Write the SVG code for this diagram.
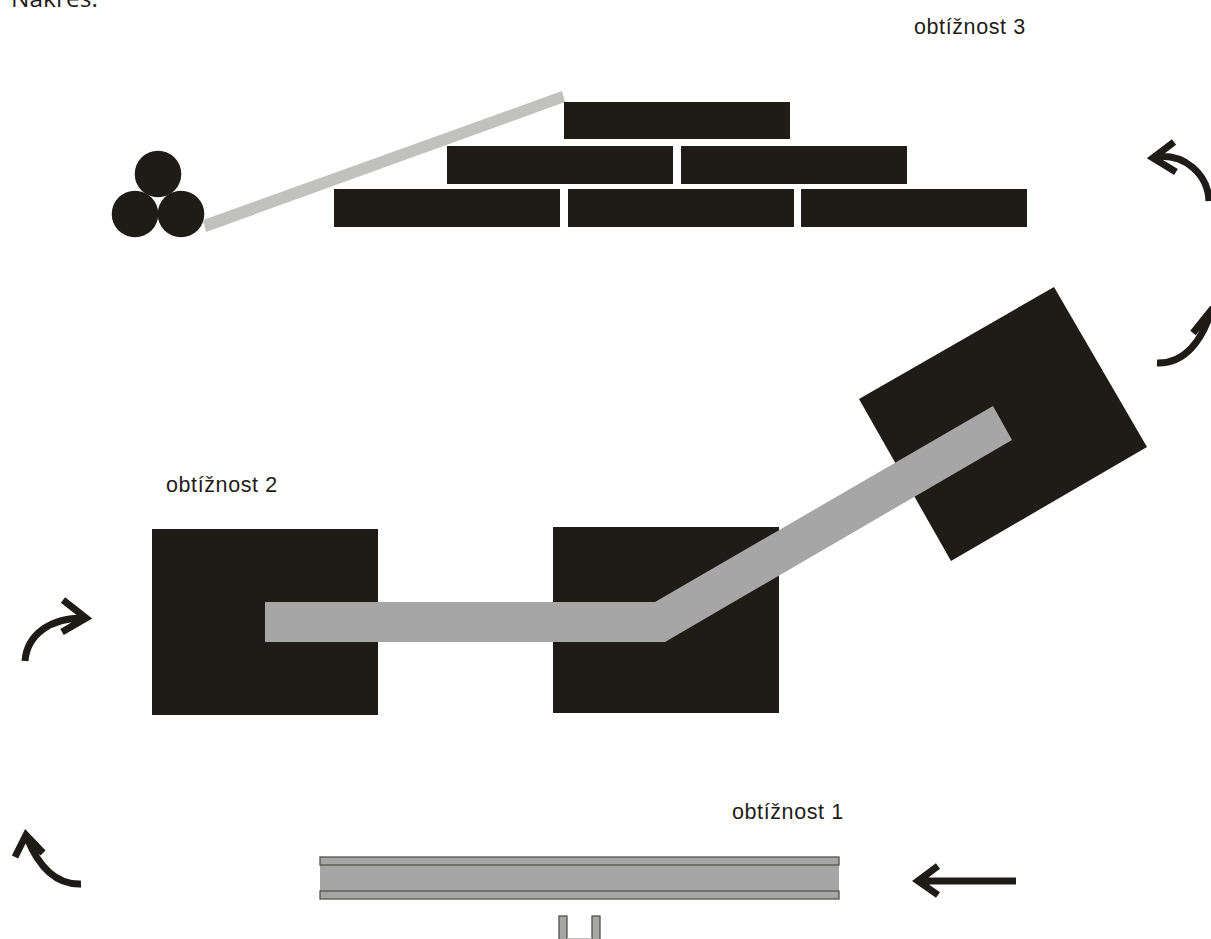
<svg xmlns="http://www.w3.org/2000/svg" width="1211" height="939" viewBox="0 0 1211 939">
<style>
.k{fill:#1f1c17}
.g{fill:#a6a6a6}
.f{fill:#a6a6a6;stroke:#55524e;stroke-width:1.3}
.t{font-family:"Liberation Sans",Arial,sans-serif;font-size:21.5px;letter-spacing:.6px;fill:#1f1c17}
.a{fill:none;stroke:#1f1c17;stroke-width:7;stroke-miterlimit:10}
</style>
<rect width="1211" height="939" fill="#fff"/>
<text x="11" y="7" style="font-family:'Open Sans',sans-serif;font-size:24.5px;fill:#1f1c17">Nakres:</text>
<g id="level3">
<text class="t" x="914" y="34">obtížnost 3</text>
<circle class="k" cx="158" cy="174" r="23.3"/>
<circle class="k" cx="135" cy="214" r="23.3"/>
<circle class="k" cx="181" cy="214" r="23.3"/>
<polygon points="203,220 562,91 565,102 206,232" fill="#c1c1c0"/>
<rect class="k" x="564" y="102" width="226" height="37"/>
<rect class="k" x="447" y="146" width="226" height="38"/>
<rect class="k" x="681" y="146" width="226" height="38"/>
<rect class="k" x="334" y="189" width="226" height="38"/>
<rect class="k" x="568" y="189" width="226" height="38"/>
<rect class="k" x="801" y="189" width="226" height="38"/>
</g>
<g id="level2">
<text class="t" x="166" y="492">obtížnost 2</text>
<rect class="k" x="152" y="529" width="226" height="186"/>
<rect class="k" x="553" y="527" width="226" height="186"/>
<polygon class="k" points="1054,287 1147,447 951,561 859,399"/>
<polygon class="g" points="265,602 655,602 993,406 1012,440 665,642 265,642"/>
</g>
<g id="level1">
<text class="t" x="732" y="819">obtížnost 1</text>
<rect class="g" x="320" y="865" width="519" height="26"/>
<rect class="f" x="320" y="857" width="519" height="8"/>
<rect class="f" x="320" y="891" width="519" height="8"/>
<rect class="f" x="559" y="916" width="8" height="24"/>
<rect class="f" x="592" y="916" width="8" height="24"/>
<rect x="567" y="938" width="25" height="1" fill="#bdbdbd"/>
</g>
<g id="connectors">
<path class="a" d="M1016 881H922M938 866L918 881L938 895"/>
<path class="a" d="M1153 157C1185 152 1208 175 1209 201M1174 142L1153 158L1176 172"/>
<path class="a" d="M1157 363C1185 364 1202 340 1211 312M1193 333L1213 308"/>
<path class="a" d="M25 661C27 635 50 617 86 618M63 600L86 618L62 632"/>
<path class="a" d="M81 884C55 885 38 865 27 838M15 857L26 835L43 853"/>
</g>
</svg>
